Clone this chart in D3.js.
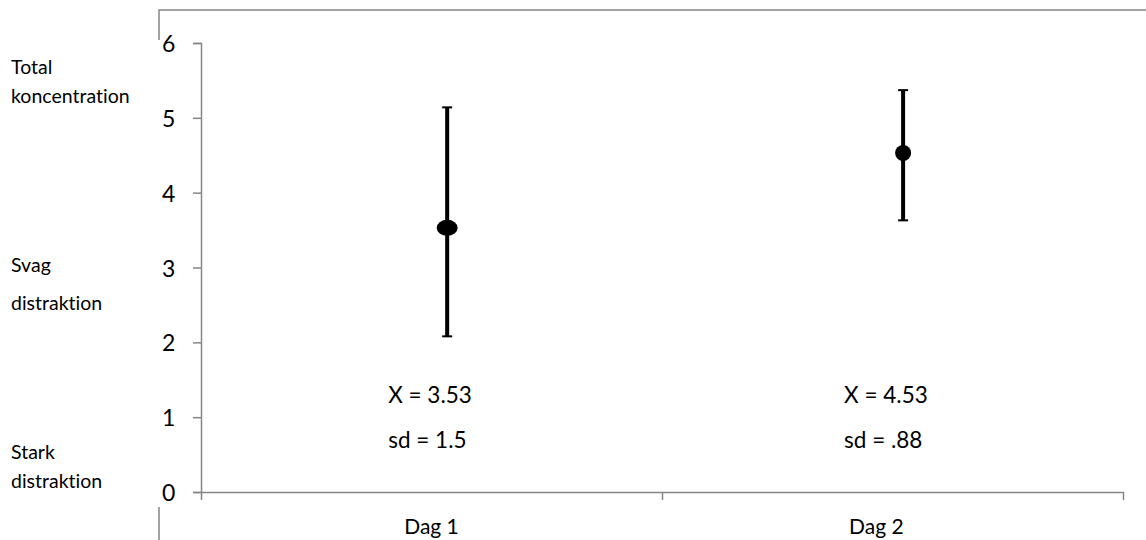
<!DOCTYPE html>
<html><head><meta charset="utf-8">
<script src="https://cdn.jsdelivr.net/npm/d3@7"></script>
<style>body{margin:0;background:#fff}svg{display:block}text{font-family:Lato,"Open Sans",sans-serif;fill:#000;font-variant-ligatures:none;font-feature-settings:"liga" 0}</style>
</head><body>
<svg id="c" width="1146" height="540"></svg>
<script>
const categories = ["Dag 1", "Dag 2"];
const labelX = [0.5, 1.465];
const pointX = [0.534, 1.523];
const means = [3.53, 4.53];
const upper = [5.14, 5.37];
const lower = [2.08, 3.63];
const meanText = ["X = 3.53", "X = 4.53"];
const sdText = ["sd = 1.5", "sd = .88"];
const yTicks = [0, 1, 2, 3, 4, 5, 6];
const sideLabels = [["Total", "koncentration"], ["Svag", "distraktion"], ["Stark", "distraktion"]];
const sideLabelY = [5.48, 2.83, 0.33];
const sideLineGap = [29, 38, 29];

const svg = d3.select("#c");
const gray = "#868686";
const x = d3.scaleLinear().domain([0, 2]).range([201, 1123]);
const y = d3.scaleLinear().domain([0, 6]).range([492, 43]);

// frame
svg.append("path").attr("d", "M159,40 V10 H1146").attr("fill", "none").attr("stroke", gray).attr("stroke-width", 1.5);
svg.append("path").attr("d", "M159,507 V540").attr("fill", "none").attr("stroke", gray).attr("stroke-width", 1.5);

// y axis
const yAxis = d3.axisLeft(y).tickValues(yTicks).tickSize(8).tickFormat("");
const gy = svg.append("g").attr("transform", `translate(${x(0)},0)`).call(yAxis);
gy.selectAll("path,line").attr("stroke", gray).attr("stroke-width", 1.5);
svg.selectAll(".ytl").data(yTicks).join("text").attr("class", "ytl")
  .attr("x", 162).attr("y", d => y(d) + 9).attr("font-size", 23).text(d => d);

// x axis
const xAxis = d3.axisBottom(x).tickValues([0, 1, 2]).tickSize(8).tickSizeOuter(0).tickFormat("");
const gx = svg.append("g").attr("transform", `translate(0,${y(0)})`).call(xAxis);
gx.selectAll("path,line").attr("stroke", gray).attr("stroke-width", 1.5);
svg.selectAll(".xtl").data(categories).join("text").attr("class", "xtl")
  .attr("x", (d, i) => x(labelX[i])).attr("y", 534).attr("text-anchor", "middle").attr("font-size", 21).text(d => d);

// side labels
sideLabels.forEach((lines, i) => {
  const t = svg.append("text").attr("x", 11).attr("y", y(sideLabelY[i]) - 8).attr("font-size", 19.5);
  lines.forEach((s, j) => t.append("tspan").attr("x", 11).attr("dy", j === 0 ? 0 : sideLineGap[i]).text(s));
});

// error bars
const g = svg.append("g");
categories.forEach((c, i) => {
  const cx = x(pointX[i]);
  g.append("line").attr("x1", cx).attr("x2", cx).attr("y1", y(upper[i])).attr("y2", y(lower[i]))
    .attr("stroke", "#000").attr("stroke-width", 4);
  [upper[i], lower[i]].forEach(v => g.append("line").attr("x1", cx - 5).attr("x2", cx + 5)
    .attr("y1", y(v)).attr("y2", y(v)).attr("stroke", "#000").attr("stroke-width", 2));
  g.append("ellipse").attr("cx", cx).attr("cy", y(means[i])).attr("rx", i === 0 ? 10.5 : 8).attr("ry", 8).attr("fill", "#000");
  svg.append("text").attr("x", cx - 59).attr("y", 403).attr("font-size", 22.5).text(meanText[i]);
  svg.append("text").attr("x", cx - 59).attr("y", 448).attr("font-size", 22.5).text(sdText[i]);
});
</script>
</body></html>
